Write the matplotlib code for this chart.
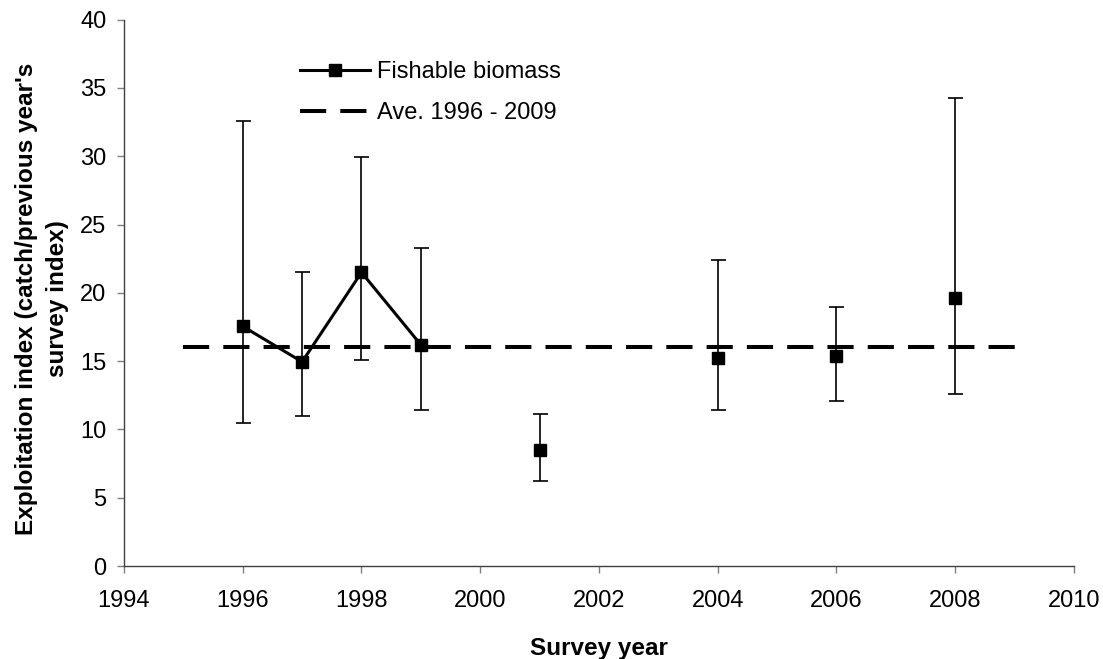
import numpy as np
import matplotlib
matplotlib.use("Agg")
import matplotlib.pyplot as plt

plt.rcParams['font.family'] = ['Liberation Sans', 'DejaVu Sans']

# survey years 1996-2008, NaN where no survey value
years = np.arange(1996, 2009)
index = [17.55, 14.95, 21.5, 16.2, np.nan, 8.5, np.nan, np.nan, 15.25, np.nan, 15.35, np.nan, 19.6]
upper = [32.55, 21.55, 29.95, 23.3, np.nan, 11.1, np.nan, np.nan, 22.4, np.nan, 19.0, np.nan, 34.3]
lower = [10.45, 10.95, 15.05, 11.4, np.nan, 6.25, np.nan, np.nan, 11.4, np.nan, 12.1, np.nan, 12.6]

# average 1996 - 2009
ave_x = [1995, 2009]
ave_y = [16.0, 16.0]

index = np.array(index)
yerr = [index - np.array(lower), np.array(upper) - index]

fig = plt.figure(figsize=(11.03, 6.59), dpi=100)
ax = fig.add_axes([0.1124, 0.1411, 0.8613, 0.829])

ax.errorbar(years, index, yerr=yerr, fmt='none', ecolor='black',
            elinewidth=1.2, capsize=5.4, capthick=1.2, zorder=2)
ax.plot(years, index, color='black', lw=2.2, marker='s', ms=8,
        label='Fishable biomass', zorder=4)
ax.plot(ave_x, ave_y, color='black', lw=2.9, linestyle=(0, (6.5, 3.5)),
        label='Ave. 1996 - 2009', zorder=3)

ax.set_xlim(1994, 2010)
ax.set_ylim(0, 40)
ax.set_xticks(np.arange(1994, 2011, 2))
ax.set_yticks(np.arange(0, 41, 5))

for s in ['top', 'right']:
    ax.spines[s].set_visible(False)
for s in ['left', 'bottom']:
    ax.spines[s].set_color('#404040')
    ax.spines[s].set_linewidth(1.0)

ax.tick_params(axis='both', direction='out', length=5, width=1,
               color='#808080', labelsize=17)
ax.tick_params(axis='y', pad=7.5)
ax.tick_params(axis='x', pad=12)

ax.set_xlabel('Survey year', fontsize=17.5, fontweight='bold', labelpad=18)
fig.text(42 / 1103, 1 - 299 / 659,
         "Exploitation index (catch/previous year's\nsurvey index)",
         rotation=90, ha='center', va='center', multialignment='center',
         fontsize=17.5, fontweight='bold', linespacing=1.45)

ax.legend(loc='upper left', bbox_to_anchor=(300 / 1103, 1 - 61 / 659),
          bbox_transform=fig.transFigure, frameon=False, fontsize=17,
          handlelength=2.96, handletextpad=0.3, borderpad=0, borderaxespad=0,
          labelspacing=0.8)

fig.savefig('out.png', dpi=100)
